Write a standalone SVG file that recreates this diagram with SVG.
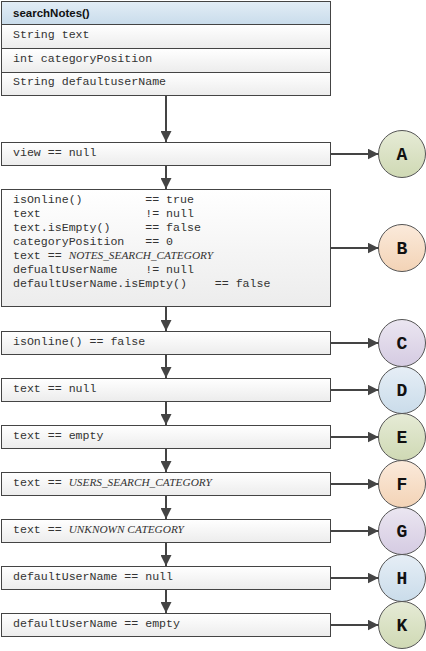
<svg xmlns="http://www.w3.org/2000/svg" width="426" height="651" viewBox="0 0 426 651">
<defs>
<linearGradient id="gBox" x1="0" y1="0" x2="0" y2="1"><stop offset="0" stop-color="#ffffff"/><stop offset="1" stop-color="#ececec"/></linearGradient>
<linearGradient id="gHead" x1="0" y1="0" x2="0" y2="1"><stop offset="0" stop-color="#e2edf6"/><stop offset="1" stop-color="#c9dceb"/></linearGradient>
<linearGradient id="gGreen" x1="0" y1="0" x2="0" y2="1"><stop offset="0" stop-color="#e6ebd6"/><stop offset="1" stop-color="#cfd9b4"/></linearGradient>
<linearGradient id="gPeach" x1="0" y1="0" x2="0" y2="1"><stop offset="0" stop-color="#fbeadb"/><stop offset="1" stop-color="#f3d3b6"/></linearGradient>
<linearGradient id="gLav" x1="0" y1="0" x2="0" y2="1"><stop offset="0" stop-color="#ebe6f1"/><stop offset="1" stop-color="#d5cbe2"/></linearGradient>
<linearGradient id="gBlue" x1="0" y1="0" x2="0" y2="1"><stop offset="0" stop-color="#e6eef6"/><stop offset="1" stop-color="#cadcea"/></linearGradient>
<marker id="ah" markerWidth="11" markerHeight="11" viewBox="0 0 11 11" refX="11" refY="5.5" orient="auto" markerUnits="userSpaceOnUse">
<path d="M0,0 L11,5.5 L0,11 Z" fill="#444444"/>
</marker>
</defs>
<style>
.box{fill:url(#gBox);stroke:#444444;stroke-width:1}
.head{fill:url(#gHead);stroke:#444444;stroke-width:1}
.t{font-family:"Liberation Mono","Courier New",monospace;font-size:11.6px;fill:#333333;white-space:pre}
.it{font-family:"Liberation Serif","Times New Roman",serif;font-style:italic;font-size:11.3px}
.h{font-family:"Liberation Sans",Arial,sans-serif;font-weight:bold;font-size:11.5px;fill:#111111}
.c{stroke:#555555;stroke-width:1}
.l{font-family:"Liberation Mono","Courier New",monospace;font-weight:bold;font-size:18px;fill:#111111;text-anchor:middle}
.ar{stroke:#444444;stroke-width:2;fill:none;marker-end:url(#ah)}
</style>
<g id="searchNotes">
<rect class="head" x="1.5" y="1.5" width="329" height="23"/>
<rect class="box" x="1.5" y="24.5" width="329" height="24"/>
<rect class="box" x="1.5" y="48.5" width="329" height="24"/>
<rect class="box" x="1.5" y="72.5" width="329" height="23"/>
<text class="h" x="13" y="17">searchNotes()</text>
<text class="t" x="13" y="38">String text</text>
<text class="t" x="13" y="62">int categoryPosition</text>
<text class="t" x="13" y="85">String defaultuserName</text>
</g>
<g id="n1"><rect class="box" x="1.5" y="142.5" width="329" height="23"/><text class="t" x="13" y="156">view == null</text></g>
<g id="n2"><rect class="box" x="1.5" y="189.5" width="329" height="117"/>
<text class="t" x="13" y="203">isOnline()         == true</text>
<text class="t" x="13" y="217">text               != null</text>
<text class="t" x="13" y="231">text.isEmpty()     == false</text>
<text class="t" x="13" y="245">categoryPosition   == 0</text>
<text class="t" x="13" y="259">text == <tspan class="it">NOTES_SEARCH_CATEGORY</tspan></text>
<text class="t" x="13" y="273">defualtUserName    != null</text>
<text class="t" x="13" y="287">defaultUserName.isEmpty()    == false</text>
</g>
<g id="n3"><rect class="box" x="1.5" y="331.5" width="329" height="23"/><text class="t" x="13" y="345">isOnline() == false</text></g>
<g id="n4"><rect class="box" x="1.5" y="378.5" width="329" height="23"/><text class="t" x="13" y="392">text == null</text></g>
<g id="n5"><rect class="box" x="1.5" y="425.5" width="329" height="23"/><text class="t" x="13" y="439">text == empty</text></g>
<g id="n6"><rect class="box" x="1.5" y="472.5" width="329" height="23"/><text class="t" x="13" y="486">text == <tspan class="it">USERS_SEARCH_CATEGORY</tspan></text></g>
<g id="n7"><rect class="box" x="1.5" y="519.5" width="329" height="23"/><text class="t" x="13" y="533">text == <tspan class="it">UNKNOWN CATEGORY</tspan></text></g>
<g id="n8"><rect class="box" x="1.5" y="566.5" width="329" height="23"/><text class="t" x="13" y="580">defaultUserName == null</text></g>
<g id="n9"><rect class="box" x="1.5" y="613.5" width="329" height="23"/><text class="t" x="13" y="627">defaultUserName == empty</text></g>
<g id="cA"><circle class="c" cx="402" cy="154" r="23.5" fill="url(#gGreen)"/><text class="l" x="402" y="160">A</text></g>
<g id="cB"><circle class="c" cx="402" cy="248" r="23.5" fill="url(#gPeach)"/><text class="l" x="402" y="254">B</text></g>
<g id="cC"><circle class="c" cx="402" cy="343" r="23.5" fill="url(#gLav)"/><text class="l" x="402" y="349">C</text></g>
<g id="cD"><circle class="c" cx="402" cy="390" r="23.5" fill="url(#gBlue)"/><text class="l" x="402" y="396">D</text></g>
<g id="cE"><circle class="c" cx="402" cy="437" r="23.5" fill="url(#gGreen)"/><text class="l" x="402" y="443">E</text></g>
<g id="cF"><circle class="c" cx="402" cy="484" r="23.5" fill="url(#gPeach)"/><text class="l" x="402" y="490">F</text></g>
<g id="cG"><circle class="c" cx="402" cy="531" r="23.5" fill="url(#gLav)"/><text class="l" x="402" y="537">G</text></g>
<g id="cH"><circle class="c" cx="402" cy="578" r="23.5" fill="url(#gBlue)"/><text class="l" x="402" y="584">H</text></g>
<g id="cK"><circle class="c" cx="402" cy="625" r="23.5" fill="url(#gGreen)"/><text class="l" x="402" y="631">K</text></g>
<g id="connectors">
<line class="ar" x1="166" y1="96" x2="166" y2="142"/>
<line class="ar" x1="166" y1="166" x2="166" y2="189"/>
<line class="ar" x1="166" y1="307" x2="166" y2="331"/>
<line class="ar" x1="166" y1="355" x2="166" y2="378"/>
<line class="ar" x1="166" y1="402" x2="166" y2="425"/>
<line class="ar" x1="166" y1="449" x2="166" y2="472"/>
<line class="ar" x1="166" y1="496" x2="166" y2="519"/>
<line class="ar" x1="166" y1="543" x2="166" y2="566"/>
<line class="ar" x1="166" y1="590" x2="166" y2="613"/>
<line class="ar" x1="331" y1="154" x2="378.5" y2="154"/>
<line class="ar" x1="331" y1="248" x2="378.5" y2="248"/>
<line class="ar" x1="331" y1="343" x2="378.5" y2="343"/>
<line class="ar" x1="331" y1="390" x2="378.5" y2="390"/>
<line class="ar" x1="331" y1="437" x2="378.5" y2="437"/>
<line class="ar" x1="331" y1="484" x2="378.5" y2="484"/>
<line class="ar" x1="331" y1="531" x2="378.5" y2="531"/>
<line class="ar" x1="331" y1="578" x2="378.5" y2="578"/>
<line class="ar" x1="331" y1="625" x2="378.5" y2="625"/>
</g>
</svg>
